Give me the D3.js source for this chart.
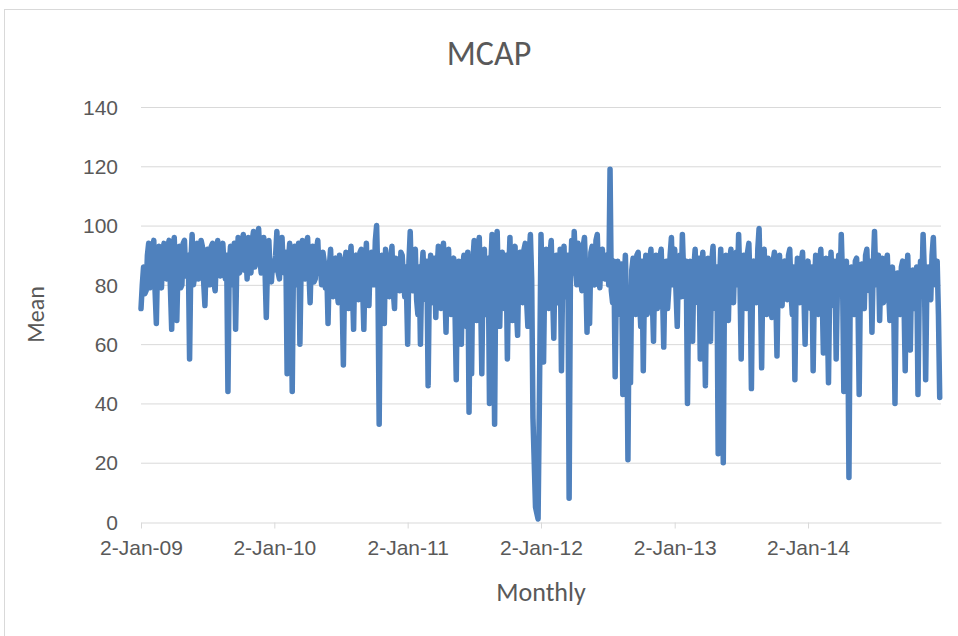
<!DOCTYPE html>
<html>
<head>
<meta charset="utf-8">
<script src="https://cdn.jsdelivr.net/npm/d3@7"></script>
<style>
  body { margin: 0; background: #fff; }
  svg { display: block; font-family: Carlito, Calibri, "Open Sans", sans-serif; }
</style>
</head>
<body>
<div id="chart"></div>
<script>
'use strict';

// twice-weekly means, one array per year
const mcap2009 = [72, 80, 86, 77, 78, 90, 94, 79, 80, 92, 95, 78, 67, 88, 93, 80, 79, 91, 94, 85,
  82, 93, 95, 79, 65, 90, 96, 82, 68, 87, 93, 79, 80, 94, 95, 83, 84, 90, 55, 88,
  97, 80, 83, 92, 94, 82, 86, 95, 93, 81, 73, 89, 92, 84, 80, 93, 94, 81, 78, 90,
  95, 84, 83, 92, 94, 86, 82, 90, 44, 86, 93, 80, 85, 94, 65, 88, 96, 84, 86, 92,
  97, 85, 91, 82, 96, 88, 84, 95, 98, 86, 88, 93, 99, 89, 84, 92, 96, 85, 69, 88,
  95, 84, 81, 88];
const mcap2010 = [85, 90, 98, 84, 82, 93, 96, 86, 84, 91, 50, 88, 94, 83, 44, 89, 93, 80, 85, 94,
  60, 87, 95, 83, 82, 91, 96, 85, 74, 90, 93, 81, 82, 92, 95, 84, 86, 80, 91, 88,
  79, 85, 67, 86, 92, 80, 76, 88, 89, 78, 74, 90, 88, 76, 53, 84, 91, 79, 72, 87,
  93, 80, 65, 89, 90, 77, 75, 91, 92, 80, 65, 86, 94, 78, 73, 90, 91, 84, 80, 95,
  100, 82, 33, 85, 90, 76, 67, 92, 88, 80, 76, 87, 93, 78, 72, 89, 88, 80, 78, 91,
  90, 82, 76, 86];
const mcap2011 = [60, 88, 98, 80, 78, 90, 92, 75, 70, 86, 60, 84, 91, 78, 75, 88, 46, 82, 90, 74,
  77, 89, 69, 85, 93, 76, 72, 90, 94, 80, 64, 87, 92, 75, 70, 88, 89, 72, 48, 84,
  88, 70, 60, 86, 90, 74, 66, 91, 37, 80, 50, 88, 95, 72, 68, 92, 96, 78, 50, 85,
  92, 70, 70, 89, 40, 86, 97, 76, 33, 90, 98, 80, 66, 87, 91, 74, 72, 90, 55, 84,
  96, 76, 68, 91, 93, 72, 63, 88, 91, 78, 74, 92, 94, 75, 66, 90, 97, 82, 35, 20,
  5, 3, 1, 40];
const mcap2012 = [97, 80, 54, 86, 92, 76, 72, 90, 95, 78, 62, 88, 90, 74, 74, 92, 51, 84, 93, 76,
  78, 90, 8, 82, 95, 84, 98, 86, 80, 94, 92, 82, 78, 93, 96, 84, 64, 88, 67, 91,
  93, 82, 80, 95, 97, 84, 79, 90, 92, 83, 82, 90, 88, 80, 119, 78, 74, 88, 49, 82,
  88, 72, 70, 87, 43, 80, 90, 72, 21, 76, 47, 85, 89, 74, 70, 90, 91, 76, 66, 88,
  51, 82, 90, 70, 72, 88, 92, 76, 61, 86, 90, 72, 75, 89, 92, 78, 59, 84, 88, 72,
  79, 90, 96, 80];
const mcap2013 = [92, 78, 66, 88, 90, 76, 97, 84, 76, 88, 40, 82, 88, 74, 61, 86, 92, 78, 74, 89,
  55, 84, 91, 75, 46, 82, 89, 76, 61, 88, 93, 78, 72, 86, 23, 80, 92, 76, 20, 84,
  90, 78, 68, 88, 92, 76, 74, 90, 91, 80, 97, 82, 55, 87, 90, 75, 72, 91, 94, 80,
  45, 85, 88, 76, 74, 92, 99, 80, 52, 86, 92, 77, 70, 89, 87, 74, 69, 88, 91, 78,
  56, 84, 90, 74, 73, 87, 88, 78, 75, 90, 92, 77, 70, 86, 48, 80, 89, 76, 74, 88,
  91, 78, 60, 84];
const mcap2014 = [88, 76, 72, 86, 51, 80, 90, 74, 70, 87, 92, 78, 57, 84, 89, 72, 47, 82, 91, 76,
  73, 88, 55, 80, 90, 78, 97, 82, 44, 84, 88, 74, 15, 78, 86, 72, 70, 88, 89, 76,
  43, 82, 87, 74, 72, 90, 92, 80, 78, 88, 64, 86, 98, 82, 80, 90, 68, 85, 89, 74,
  76, 88, 90, 78, 68, 84, 86, 74, 40, 80, 84, 72, 70, 86, 88, 76, 51, 82, 90, 74,
  58, 84, 85, 72, 72, 86, 43, 78, 88, 80, 97, 84, 48, 82, 86, 76, 75, 90, 96, 82,
  80, 88, 70, 42];

const years = [2009, 2010, 2011, 2012, 2013, 2014];
const yearSeries = [mcap2009, mcap2010, mcap2011, mcap2012, mcap2013, mcap2014];
const yTicks = [0, 20, 40, 60, 80, 100, 120, 140];

const width = 958;
const height = 636;
const margin = { top: 107, right: 17, bottom: 114, left: 141 };

const data = [];
years.forEach((yr, i) => {
  yearSeries[i].forEach((v, k) => {
    data.push({ date: d3.timeHour.offset(new Date(yr, 0, 2), 84 * k), value: v });
  });
});

const svg = d3.select('#chart').append('svg')
  .attr('width', width)
  .attr('height', height);

// chart area border
svg.append('rect')
  .attr('x', 4.5).attr('y', 9.5)
  .attr('width', width + 10).attr('height', height + 10)
  .attr('fill', 'none')
  .attr('stroke', '#d9d9d9');

const x = d3.scaleTime()
  .domain([new Date(2009, 0, 2), new Date(2015, 0, 1)])
  .range([margin.left, width - margin.right]);

const y = d3.scaleLinear()
  .domain([0, 140])
  .range([height - margin.bottom, margin.top]);

// gridlines
svg.append('g')
  .selectAll('line')
  .data(yTicks.filter((t) => t > 0))
  .join('line')
    .attr('x1', margin.left).attr('x2', width - margin.right)
    .attr('y1', (d) => y(d) + 0.5).attr('y2', (d) => y(d) + 0.5)
    .attr('stroke', '#d9d9d9');

// y axis labels
const yAxis = svg.append('g')
  .attr('transform', `translate(${margin.left},0.5)`)
  .call(d3.axisLeft(y).tickValues(yTicks).tickSize(0).tickPadding(23));
yAxis.select('.domain').remove();
yAxis.selectAll('text')
  .attr('fill', '#595959')
  .style('font-size', '21px');

// x axis
const xAxis = svg.append('g')
  .attr('transform', `translate(0,${y(0) + 0.5})`)
  .call(d3.axisBottom(x)
    .tickValues(years.map((yr) => new Date(yr, 0, 2)))
    .tickFormat(d3.timeFormat('%-d-%b-%y'))
    .tickSize(6)
    .tickSizeOuter(0)
    .tickPadding(12));
xAxis.select('.domain').attr('stroke', '#d9d9d9');
xAxis.selectAll('.tick line').attr('stroke', '#d9d9d9');
xAxis.selectAll('text')
  .attr('fill', '#595959')
  .style('font-size', '21px');

// series
const line = d3.line()
  .x((d) => x(d.date))
  .y((d) => y(d.value));

svg.append('path')
  .datum(data)
  .attr('d', line)
  .attr('fill', 'none')
  .attr('stroke', '#4f81bd')
  .attr('stroke-width', 5.5)
  .attr('stroke-linejoin', 'round')
  .attr('stroke-linecap', 'round');

// titles
svg.append('text')
  .attr('x', 489).attr('y', 65)
  .attr('text-anchor', 'middle')
  .attr('fill', '#595959')
  .style('font-size', '34px')
  .text('MCAP');

svg.append('text')
  .attr('x', 541).attr('y', 601)
  .attr('text-anchor', 'middle')
  .attr('fill', '#595959')
  .style('font-size', '26px')
  .text('Monthly');

svg.append('text')
  .attr('transform', `translate(44,${(y(0) + y(140)) / 2}) rotate(-90)`)
  .attr('text-anchor', 'middle')
  .attr('fill', '#595959')
  .style('font-size', '24px')
  .text('Mean');
</script>
</body>
</html>
